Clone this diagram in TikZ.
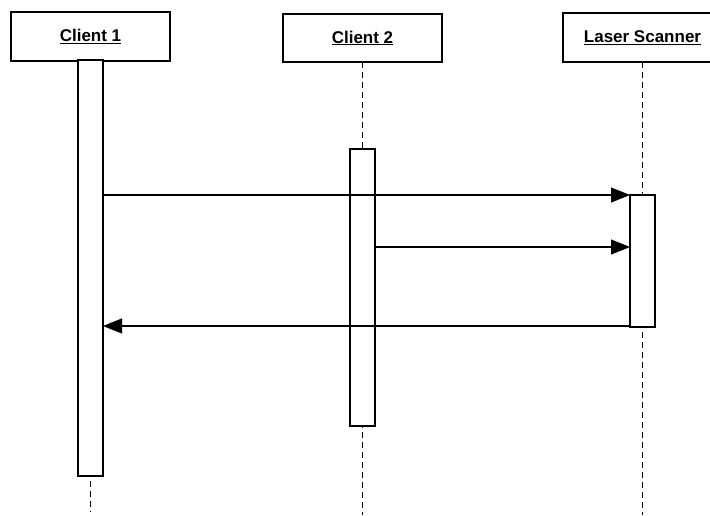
\documentclass[tikz,border=0pt]{standalone}
\usepackage{fontspec}
\setmainfont{Liberation Sans}
\usetikzlibrary{arrows.meta}
\begin{document}
\begin{tikzpicture}[x=1pt,y=-1pt,
  headbox/.style={draw, line width=1.2pt, fill=white, minimum width=159pt, inner sep=0pt, outer sep=0pt,
    font=\fontsize{17}{19}\selectfont\bfseries},
  actbar/.style={draw, line width=1.2pt, fill=white, minimum width=25pt, inner sep=0pt, outer sep=0pt},
  life/.style={line width=1.4pt, dash pattern=on 6pt off 4pt},
  msg/.style={line width=1.1pt, -{Triangle[length=19pt, width=15pt]}}]
\useasboundingbox (0,0) rectangle (710,515);
\coordinate (e1) at (90.5,512);
\coordinate (e2) at (362.5,515);
\coordinate (e3) at (642.5,515);
\node[headbox, minimum height=49pt] (c1) at (90.5,36.5) {\underline{Client 1}};
\node[headbox, minimum height=48pt] (c2) at (362.5,38) {\underline{Client 2}};
\node[headbox, minimum height=49pt] (c3) at (642.5,37.5) {\underline{Laser Scanner}};
\draw[life] (c2.south) -- (e2);
\draw[life] (c3.south) -- (e3);
\draw[life] (c1.south) -- (e1);
\node[actbar, minimum height=416pt] (a1) at (90.5,268) {};
\node[actbar, minimum height=277pt] (a2) at (362.5,287.5) {};
\node[actbar, minimum height=132pt] (a3) at (642.5,261) {};
\coordinate (m2) at (0,247);
\coordinate (m3) at (0,326);
\draw[msg] (a1.east |- a3.north) -- (a3.north west);
\draw[msg] (a2.east |- m2) -- (a3.west |- m2);
\draw[msg] (a3.west |- m3) -- (a1.east |- m3);
\end{tikzpicture}
\end{document}
